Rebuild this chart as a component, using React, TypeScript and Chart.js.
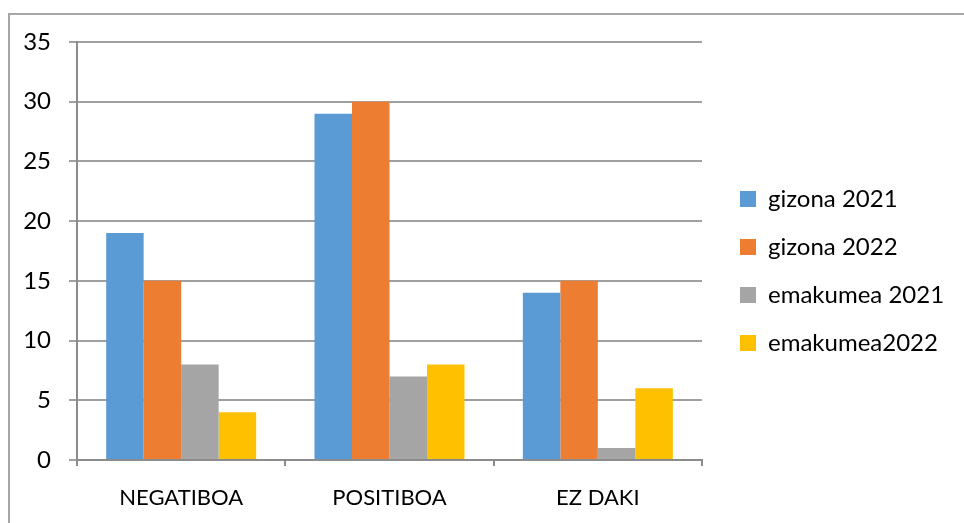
import React, { useEffect, useRef } from "react";
import { Chart, registerables } from "chart.js";

Chart.register(...registerables);

const categories = ["NEGATIBOA", "POSITIBOA", "EZ DAKI"];
const seriesNames = ["gizona 2021", "gizona 2022", "emakumea 2021", "emakumea2022"];
const gizona2021 = [19, 29, 14];
const gizona2022 = [15, 30, 15];
const emakumea2021 = [8, 7, 1];
const emakumea2022 = [4, 8, 6];
const seriesColors = ["#5B9BD5", "#ED7D31", "#A5A5A5", "#FFC000"];
const yTicks = { min: 0, max: 35, step: 5 };

const FONT = "Lato";

export default function App() {
  const ref = useRef<HTMLCanvasElement | null>(null);

  useEffect(() => {
    document.body.style.margin = "0";
    const values = [gizona2021, gizona2022, emakumea2021, emakumea2022];
    const chart = new Chart(ref.current!, {
      type: "bar",
      data: {
        labels: categories,
        datasets: values.map((v, i) => ({
          label: seriesNames[i],
          data: v,
          backgroundColor: seriesColors[i],
          borderWidth: 0,
          categoryPercentage: 0.72,
          barPercentage: 1,
        })),
      },
      options: {
        animation: false,
        responsive: false,
        layout: { padding: { top: 42, bottom: 11, left: 0, right: 12 } },
        plugins: {
          tooltip: { enabled: false },
          legend: {
            position: "right",
            align: "start",
            maxWidth: 236,
            title: {
              display: true,
              text: "",
              font: { family: FONT, size: 10, lineHeight: 1.2 },
              padding: { top: 109, bottom: 0 },
            },
            labels: {
              boxWidth: 16,
              boxHeight: 16,
              padding: 24,
              color: "#000",
              font: { family: FONT, size: 24 },
            },
          },
        },
        scales: {
          x: {
            grid: {
              drawOnChartArea: false,
              drawTicks: true,
              tickLength: 6,
              color: "#8c8c8c",
              lineWidth: 2,
            },
            border: { color: "#8c8c8c", width: 2 },
            ticks: {
              color: "#000",
              padding: 19,
              font: { family: FONT, size: 22 },
            },
            afterFit: (s: any) => {
              s.height = 52;
            },
          },
          y: {
            min: yTicks.min,
            max: yTicks.max,
            ticks: {
              stepSize: yTicks.step,
              color: "#000",
              padding: 18,
              font: { family: FONT, size: 24 },
            },
            grid: {
              color: "#a0a0a0",
              lineWidth: 2,
              tickLength: 8,
            },
            border: { color: "#8c8c8c", width: 2 },
            afterFit: (s: any) => {
              s.width = 77;
            },
          },
          spacer: {
            position: "right",
            display: true,
            grid: { display: false },
            border: { display: false },
            ticks: { display: false },
            afterFit: (s: any) => {
              s.width = 14;
            },
          },
        },
      } as any,
    });
    return () => chart.destroy();
  }, []);

  return (
    <div style={{ position: "absolute", left: 0, top: 0, width: 964, height: 523, overflow: "hidden", background: "#fff" }}>
      <div
        style={{
          position: "absolute",
          left: 8,
          top: 13,
          width: 1000,
          height: 600,
          border: "2px solid #a6a6a6",
        }}
      />
      <canvas ref={ref} width={964} height={523} style={{ position: "absolute", left: 0, top: 0 }} />
    </div>
  );
}
